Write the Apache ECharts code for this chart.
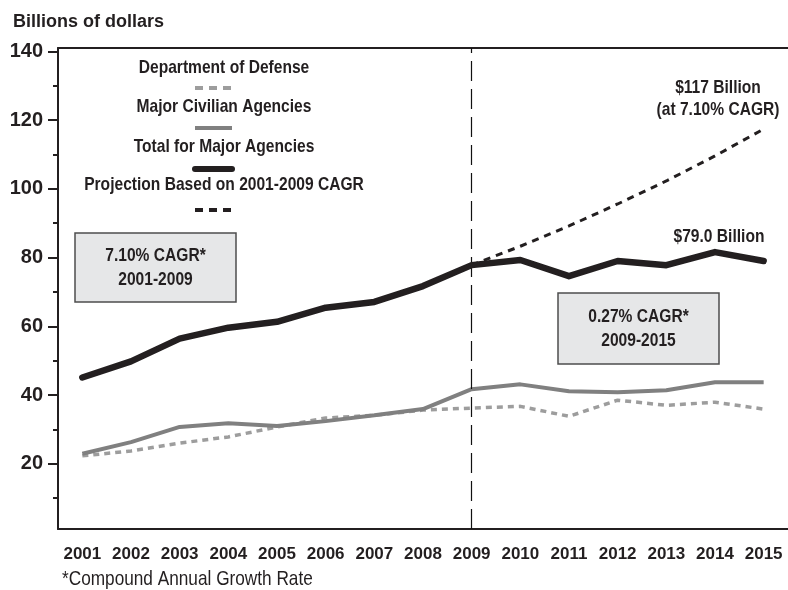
<!DOCTYPE html>
<html><head><meta charset="utf-8">
<script src="https://cdn.jsdelivr.net/npm/echarts@6/dist/echarts.min.js"></script>
<style>html,body{margin:0;padding:0;background:#fff}#c{width:788px;height:590px}</style>
</head><body><div id="c"></div>
<script>
const years = ['2001','2002','2003','2004','2005','2006','2007','2008','2009','2010','2011','2012','2013','2014','2015'];
const dod = [22.3,23.7,26.0,27.8,30.7,33.3,34.1,35.6,36.2,36.7,33.8,38.5,37.0,37.9,35.9];
const civilian = [22.9,26.3,30.7,31.8,31.0,32.4,34.1,35.9,41.7,43.1,41.1,40.8,41.4,43.7,43.7];
const total = [45.1,49.8,56.4,59.6,61.3,65.4,67.1,71.7,77.8,79.3,74.6,79.0,77.8,81.6,79.0];
const projection = [null,null,null,null,null,null,null,null,77.8,83.3,89.2,95.6,102.3,109.6,117.4];
const yMajorTicks = [20,40,60,80,100,120,140];
const yMinorTicks = [10,30,50,70,90,110,130];
const legendItems = ['Department of Defense','Major Civilian Agencies','Total for Major Agencies','Projection Based on 2001-2009 CAGR'];

const SANS = '"Liberation Sans", Arial, Helvetica, sans-serif';
const TXT = '#231f20';
const SX = 0.82;
const chart = echarts.init(document.getElementById('c'), null, {renderer:'canvas'});

function ctext(t, x, y, opts){
  opts = opts || {};
  return {type:'text', x:x, y:y, scaleX:SX, z:opts.z||60,
    style:{text:t, fontFamily:SANS, fontWeight:opts.weight||'bold', fontSize:opts.size||19, fill:TXT,
      align:opts.align||'center', verticalAlign:'middle'}};
}
function legendLine(y, color, width, dash, cap){
  return {type:'line', shape:{x1:195, y1:y, x2:232, y2:y}, style:{stroke:color, lineWidth:width, lineDash:dash, lineCap:cap||'butt'}};
}
function box(x,y,w,h,l1,l2){
  const cx = x + w/2;
  return [
    {type:'rect', shape:{x:x,y:y,width:w,height:h}, style:{fill:'#e6e7e8', stroke:'#4d4d4d', lineWidth:1.5}, z:50},
    ctext(l1, cx, y+h/2-12, {z:51}),
    ctext(l2, cx, y+h/2+12, {z:51})
  ];
}

const option = {
  animation:false,
  backgroundColor:'#fff',
  grid:{left:58, top:48, width:732, height:481, containLabel:false},
  xAxis:[
    {type:'category', data:years, boundaryGap:true, position:'bottom',
     axisLine:{lineStyle:{color:TXT, width:2}},
     axisTick:{alignWithLabel:true, length:9, lineStyle:{color:TXT, width:2}},
     axisLabel:{margin:17, color:TXT, fontFamily:SANS, fontWeight:'bold', fontSize:17, interval:0},
     splitLine:{show:false}},
    {type:'category', data:years, boundaryGap:true, position:'top',
     axisLine:{lineStyle:{color:TXT, width:2}}, axisTick:{show:false}, axisLabel:{show:false}, splitLine:{show:false}}
  ],
  yAxis:[
    {type:'value', min:1, max:141, position:'left',
     axisLine:{show:true, lineStyle:{color:TXT, width:2}},
     axisTick:{show:true, customValues:yMajorTicks, length:10, lineStyle:{color:TXT, width:2}},
     axisLabel:{customValues:yMajorTicks, margin:15, color:TXT, fontFamily:SANS, fontWeight:'bold', fontSize:20},
     splitLine:{show:false}},
    {type:'value', min:1, max:141, position:'left',
     axisLine:{show:false},
     axisTick:{show:true, customValues:yMinorTicks, length:5, lineStyle:{color:TXT, width:2}},
     axisLabel:{show:false}, splitLine:{show:false}}
  ],
  series:[
    {name:legendItems[0], type:'line', data:dod, symbol:'none', lineStyle:{color:'#9d9d9d', width:3.5, type:[6,5]}, z:3,
     markLine:{silent:true, symbol:'none', label:{show:false}, lineStyle:{color:'#111', width:1.2, type:[20,8]}, data:[{xAxis:'2009'}]}},
    {name:legendItems[1], type:'line', data:civilian, symbol:'none', lineStyle:{color:'#808080', width:4}, z:4},
    {name:legendItems[2], type:'line', data:total, symbol:'none', lineStyle:{color:TXT, width:6.5, cap:'round', join:'round'}, z:5},
    {name:legendItems[3], type:'line', data:projection, symbol:'none', connectNulls:false, lineStyle:{color:TXT, width:3, type:[7,6]}, z:2}
  ],
  graphic:[
    {type:'text', x:13, y:22, style:{text:'Billions of dollars', fontFamily:SANS, fontWeight:'bold', fontSize:18, fill:TXT, verticalAlign:'middle'}},
    ctext(legendItems[0], 224, 68),
    legendLine(88, '#9d9d9d', 4, [8,6]),
    ctext(legendItems[1], 224, 107),
    legendLine(128, '#808080', 4, null),
    ctext(legendItems[2], 224, 147),
    legendLine(169, TXT, 6, null, 'round'),
    ctext(legendItems[3], 224, 185),
    legendLine(210, TXT, 4, [8,6]),
    ...box(75,233,161,69,'7.10% CAGR*','2001-2009'),
    ...box(558,293,161,71,'0.27% CAGR*','2009-2015'),
    ctext('$117 Billion', 718, 88),
    ctext('(at 7.10% CAGR)', 718, 110),
    ctext('$79.0 Billion', 719, 237),
    ctext('*Compound Annual Growth Rate', 62, 579, {weight:'normal', size:21, align:'left'})
  ]
};
chart.setOption(option);
</script></body></html>
